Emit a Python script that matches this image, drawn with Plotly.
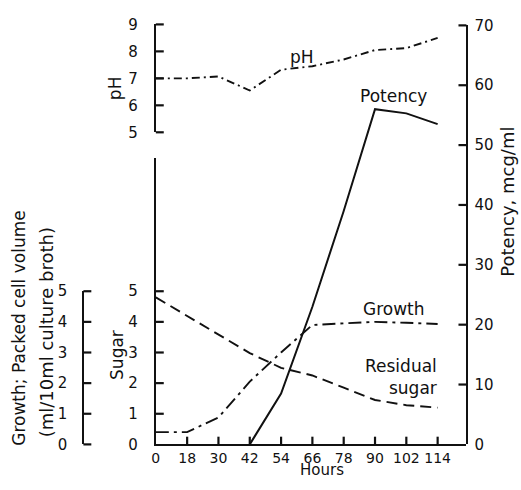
import plotly.graph_objects as go

HOURS = [0, 18, 30, 42, 54, 66, 78, 90, 102, 114]
PH = [7.0, 7.0, 7.07, 6.55, 7.32, 7.45, 7.7, 8.05, 8.12, 8.5]
POTENCY = [None, None, None, 0, 8.5, 23, 39, 56, 55.3, 53.5]
GROWTH = [0.4, 0.4, 0.88, 2.05, 3.0, 3.9, 3.95, 4.0, 3.97, 3.93]
SUGAR = [4.8, 4.2, 3.6, 2.98, 2.5, 2.25, 1.85, 1.45, 1.28, 1.2]

SUGAR_TICKS = [0, 1, 2, 3, 4, 5]
GROWTH_TICKS = [0, 1, 2, 3, 4, 5]
PH_TICKS = [5, 6, 7, 8, 9]
POTENCY_TICKS = [0, 10, 20, 30, 40, 50, 60, 70]

W, H = 521, 490
INK = "#111111"
FONT = "DejaVu Sans"

# plot geometry in pixels
X_L, X_R = 153, 466          # main frame left / right
Y_BOT = 452                  # x axis
Y_SUGAR_TOP = 155            # top of sugar axis line
Y_POT_TOP = 17               # top of potency axis
PH_TOP, PH_BOT = 16, 128     # pH axis span
GROWTH_X, GROWTH_TOP = 80, 293
TL = 8                       # tick length


def fx(p):
    return p / W


def fy(p):
    return 1 - p / H


xi = list(range(len(HOURS)))
step = (437 - X_L) / 9
x_right_idx = (X_R - X_L) / step
px_per_sugar = 31.8

fig = go.Figure()
fig.add_trace(go.Scatter(x=xi, y=PH, xaxis="x", yaxis="y3", mode="lines",
                         line=dict(color=INK, width=1.9, dash="8px,4px,2px,4px")))
fig.add_trace(go.Scatter(x=xi, y=POTENCY, xaxis="x", yaxis="y2", mode="lines",
                         line=dict(color=INK, width=2)))
fig.add_trace(go.Scatter(x=xi, y=GROWTH, xaxis="x", yaxis="y4", mode="lines",
                         line=dict(color=INK, width=1.9, dash="13px,5px,3px,5px")))
fig.add_trace(go.Scatter(x=xi, y=SUGAR, xaxis="x", yaxis="y", mode="lines",
                         line=dict(color=INK, width=1.9, dash="11px,6px")))

# inward tick marks, built from the tick value lists via each axis' scale
tx, ty = [], []


def seg(x0, y0, x1, y1):
    tx.extend([x0, x1, None])
    ty.extend([y0, y1, None])


for i in xi[1:]:
    p = X_L + i * step
    seg(p, Y_BOT, p, Y_BOT - TL)
for v in SUGAR_TICKS[1:]:
    p = Y_BOT - v * px_per_sugar
    seg(X_L, p, X_L + TL, p)
for v in POTENCY_TICKS[1:]:
    p = Y_BOT - v * (Y_BOT - Y_POT_TOP) / 70
    seg(X_R - TL, p, X_R, p)
for v in PH_TICKS:
    p = PH_BOT - (v - 5) * (PH_BOT - PH_TOP) / 4
    seg(X_L, p, X_L + TL, p)
for v in GROWTH_TICKS:
    p = Y_BOT - v * (Y_BOT - GROWTH_TOP) / 5
    seg(GROWTH_X, p, GROWTH_X + TL, p)

fig.add_trace(go.Scatter(x=tx, y=ty, xaxis="x9", yaxis="y9", mode="lines",
                         line=dict(color=INK, width=2.2), hoverinfo="skip"))

tickfont = dict(family=FONT, size=15, color=INK)
common = dict(showgrid=False, zeroline=False, showline=True, linecolor=INK,
              linewidth=2, ticks="", tickfont=tickfont, tickmode="array")

fig.update_layout(
    width=W, height=H, margin=dict(l=0, r=0, t=0, b=0, pad=0),
    paper_bgcolor="white", plot_bgcolor="rgba(0,0,0,0)", showlegend=False,
    xaxis=dict(domain=[fx(X_L), fx(X_R)], range=[0, x_right_idx], anchor="y",
               tickvals=xi, ticktext=[str(h) for h in HOURS],
               ticklabelstandoff=0, **{**common, "tickfont": dict(family=FONT, size=14, color=INK)}),
    yaxis=dict(domain=[fy(Y_BOT), fy(Y_SUGAR_TOP)],
               range=[0, (Y_BOT - Y_SUGAR_TOP) / px_per_sugar],
               anchor="x", side="left", tickvals=SUGAR_TICKS,
               ticklabelstandoff=13, **common),
    yaxis2=dict(domain=[fy(Y_BOT), fy(Y_POT_TOP)], range=[0, 70], anchor="x",
                side="right", tickvals=POTENCY_TICKS,
                ticklabelstandoff=3, **common),
    yaxis3=dict(domain=[fy(PH_BOT), fy(PH_TOP)], range=[5, 9], anchor="x",
                side="left", tickvals=PH_TICKS,
                ticklabelstandoff=13, **common),
    yaxis4=dict(domain=[fy(Y_BOT), fy(GROWTH_TOP)], range=[0, 5], anchor="free",
                position=fx(GROWTH_X), side="left", tickvals=GROWTH_TICKS,
                ticklabelstandoff=12, **common),
    xaxis9=dict(domain=[0, 1], range=[0, W], visible=False, anchor="y9"),
    yaxis9=dict(domain=[0, 1], range=[H, 0], visible=False, anchor="x9"),
)


def f(size):
    return dict(family=FONT, size=size, color=INK)


ann = [
    dict(text="Hours", x=fx(320), y=0, yanchor="bottom", font=f(15)),
    dict(text="Sugar", x=fx(114), y=fy(359), textangle=-90, font=f(17)),
    dict(text="pH", x=fx(112), y=fy(82), textangle=-90, font=f(17)),
    dict(text="Potency, mcg/ml", x=fx(508), y=fy(200), textangle=-90, font=f(18)),
    dict(text="Growth; Packed cell volume", x=fx(15), y=fy(331), textangle=-90, font=f(17)),
    dict(text="(ml/10ml culture broth)", x=fx(43), y=fy(336), textangle=-90, font=f(18)),
    dict(text="pH", x=fx(300), y=fy(50), font=f(17)),
    dict(text="Potency", x=fx(393), y=fy(90), font=f(17)),
    dict(text="Growth", x=fx(393), y=fy(311), font=f(17)),
    dict(text="Residual<br>sugar", x=fx(438), y=fy(382), xanchor="right", align="right", font=f(17)),
]
for a in ann:
    a.setdefault("xanchor", "center")
    a.setdefault("yanchor", "middle")
    fig.add_annotation(xref="paper", yref="paper", showarrow=False, **a)

fig.write_html(
    "out.html",
    config={"displayModeBar": False},
    post_script="document.body.style.margin='0';document.body.style.overflow='hidden';",
)
